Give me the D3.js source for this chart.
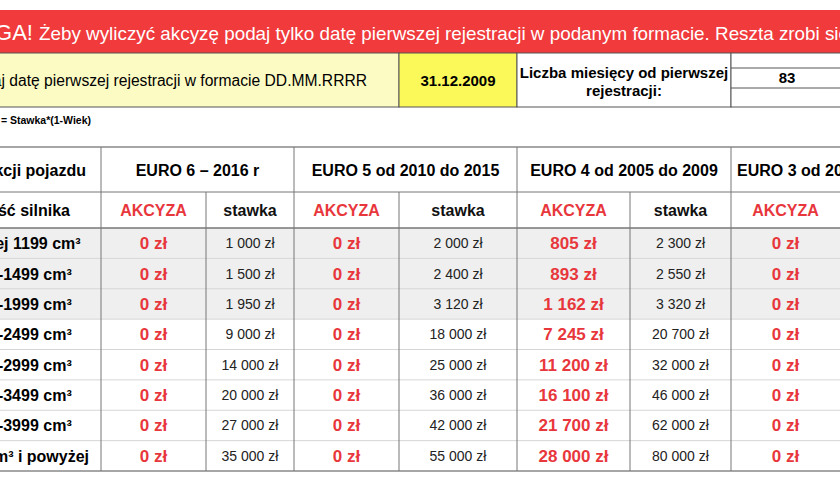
<!DOCTYPE html>
<html><head><meta charset="utf-8">
<script src="https://cdn.jsdelivr.net/npm/d3@7"></script>
<style>body{margin:0;background:#fff}svg{display:block}text{font-family:"Liberation Sans",Arial,sans-serif}</style>
</head><body><svg id="c" width="840" height="480"></svg>
<script>
const capacities = ["poniżej 1199 cm³","1200-1499 cm³","1500-1999 cm³","2000-2499 cm³","2500-2999 cm³","3000-3499 cm³","3500-3999 cm³","4000 cm³ i powyżej"];
const euroGroups = ["EURO 6 – 2016 r","EURO 5 od 2010 do 2015","EURO 4 od 2005 do 2009","EURO 3 od 2000 do 2004"];
const euro6Akcyza = [0,0,0,0,0,0,0,0];
const euro6Stawka = [1000,1500,1950,9000,14000,20000,27000,35000];
const euro5Akcyza = [0,0,0,0,0,0,0,0];
const euro5Stawka = [2000,2400,3120,18000,25000,36000,42000,55000];
const euro4Akcyza = [805,893,1162,7245,11200,16100,21700,28000];
const euro4Stawka = [2300,2550,3320,20700,32000,46000,62000,80000];
const euro3Akcyza = [0,0,0,0,0,0,0,0];
const regDate = "31.12.2009";
const months = 83;

const svg = d3.select("#c");
const fmt = v => d3.format(",")(v).replace(/,/g," ") + " zł";
const NARROW = '"Liberation Sans Narrow","Liberation Sans",Arial,sans-serif';

// banner
svg.append("rect").attr("x",0).attr("y",10).attr("width",840).attr("height",43).attr("fill","#f03a3c");
svg.append("text").attr("x",33).attr("y",40).attr("text-anchor","end").attr("fill","#fff").attr("font-size",22).text("UWAGA!");
svg.append("text").attr("x",39).attr("y",40).attr("fill","#fff").attr("font-size",19).attr("font-family",NARROW)
  .attr("textLength",810).attr("lengthAdjust","spacingAndGlyphs")
  .text("Żeby wyliczyć akcyzę podaj tylko datę pierwszej rejestracji w podanym formacie. Reszta zrobi się");

// input row
svg.append("rect").attr("x",-1).attr("y",53).attr("width",400).attr("height",54).attr("fill","#fdfbc4").attr("stroke","#555");
svg.append("rect").attr("x",399).attr("y",53).attr("width",118).attr("height",54).attr("fill","#fbf95a").attr("stroke","#555");
svg.append("rect").attr("x",517).attr("y",53).attr("width",214).attr("height",54).attr("fill","#fff").attr("stroke","#555");
svg.append("rect").attr("x",731).attr("y",53).attr("width",120).attr("height",54).attr("fill","#fff").attr("stroke","#555");
[68,88].forEach(y=>svg.append("line").attr("x1",731).attr("x2",840).attr("y1",y).attr("y2",y).attr("stroke","#555"));
svg.append("text").attr("x",367).attr("y",86).attr("text-anchor","end").attr("font-size",16).attr("font-family",NARROW)
  .attr("textLength",402).attr("lengthAdjust","spacingAndGlyphs").text("Podaj datę pierwszej rejestracji w formacie DD.MM.RRRR");
svg.append("text").attr("x",458).attr("y",86).attr("text-anchor","middle").attr("font-size",15).attr("font-weight","bold").text(regDate);
svg.append("text").attr("x",624).attr("y",78).attr("text-anchor","middle").attr("font-size",15).attr("font-weight","bold").text("Liczba miesięcy od pierwszej");
svg.append("text").attr("x",624).attr("y",96).attr("text-anchor","middle").attr("font-size",15).attr("font-weight","bold").text("rejestracji:");
svg.append("text").attr("x",787).attr("y",83).attr("text-anchor","middle").attr("font-size",15).attr("font-weight","bold").attr("font-family","Liberation Serif,serif").text(months);
svg.append("text").attr("x",91).attr("y",124).attr("text-anchor","end").attr("font-size",10.5).attr("font-weight","bold").text("Akcyza = Stawka*(1-Wiek)");

// table
const y = d3.scaleBand().domain(capacities).range([228,471]);
const groupX = [[101,294],[294,517],[517,731],[731,950]];
const subX = [[101,206],[206,294],[294,399],[399,517],[517,630],[630,731],[731,840]];
const cols = [euro6Akcyza,euro6Stawka,euro5Akcyza,euro5Stawka,euro4Akcyza,euro4Stawka,euro3Akcyza];
const g = svg.append("g");
g.selectAll(".bg").data(capacities.slice(0,3)).join("rect").attr("x",0).attr("width",840)
  .attr("y",d=>y(d)).attr("height",y.bandwidth()).attr("fill","#efefef");
g.selectAll(".rl").data(capacities.slice(1)).join("line").attr("x1",0).attr("x2",840)
  .attr("y1",d=>y(d)).attr("y2",d=>y(d)).attr("stroke","#d6d6d6");
[147,471].forEach(yy=>g.append("line").attr("x1",0).attr("x2",840).attr("y1",yy).attr("y2",yy).attr("stroke","#888").attr("stroke-width",1.5));
[192,228].forEach(yy=>g.append("line").attr("x1",0).attr("x2",840).attr("y1",yy).attr("y2",yy).attr("stroke","#777").attr("stroke-width",yy==228?1.5:1));
[101,294,517,731].forEach(x=>g.append("line").attr("x1",x).attr("x2",x).attr("y1",147).attr("y2",471).attr("stroke","#777"));
[206,399,630].forEach(x=>g.append("line").attr("x1",x).attr("x2",x).attr("y1",192).attr("y2",471).attr("stroke","#777"));
g.append("text").attr("x",86).attr("y",176).attr("text-anchor","end").attr("font-size",16).attr("font-weight","bold").text("Rok produkcji pojazdu");
g.append("text").attr("x",70).attr("y",216).attr("text-anchor","end").attr("font-size",16).attr("font-weight","bold").text("Pojemność silnika");
euroGroups.forEach((t,i)=>{
  const [a,b]=groupX[i];
  g.append("text").attr("x",i==3?737:(a+b)/2).attr("y",176).attr("text-anchor",i==3?"start":"middle")
   .attr("font-size",16).attr("font-weight","bold").text(t);
});
subX.forEach(([a,b],i)=>{
  const ak = i%2==0;
  g.append("text").attr("x",(a+b)/2).attr("y",216).attr("text-anchor","middle").attr("font-size",16).attr("font-weight","bold")
   .attr("fill",ak?"#e8373c":"#111").text(ak?"AKCYZA":"stawka");
  g.selectAll(null).data(cols[i]).join("text").attr("x",(a+b)/2).attr("y",(d,j)=>y(capacities[j])+y.bandwidth()/2+(ak?6:5))
   .attr("text-anchor","middle").attr("font-size",ak?17:14).attr("font-weight",ak?"bold":"normal")
   .attr("fill",ak?"#e8373c":"#222").text(fmt);
});
g.selectAll(".lab").data(capacities).join("text").attr("x",17).attr("y",d=>y(d)+y.bandwidth()/2+6)
  .attr("text-anchor","middle").attr("font-size",16).attr("font-weight","bold").text(d=>d);
</script></body></html>
